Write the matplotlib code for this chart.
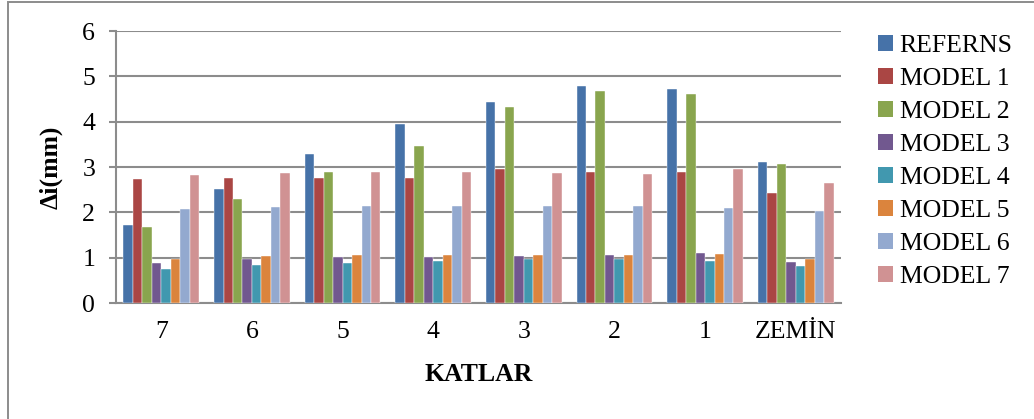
import matplotlib
matplotlib.use("Agg")
import matplotlib.pyplot as plt
import numpy as np
from matplotlib.patches import Rectangle, Patch

plt.rcParams['font.family'] = ['Liberation Serif', 'DejaVu Serif']

# Floor levels (categories) and storey drifts per model
floors = ["7", "6", "5", "4", "3", "2", "1", "ZEMİN"]
series_names = ["REFERNS", "MODEL 1", "MODEL 2", "MODEL 3",
                "MODEL 4", "MODEL 5", "MODEL 6", "MODEL 7"]
referns = [1.72, 2.51, 3.29, 3.94, 4.44, 4.79, 4.73, 3.12]
model1 = [2.73, 2.76, 2.76, 2.76, 2.95, 2.88, 2.90, 2.42]
model2 = [1.68, 2.29, 2.90, 3.46, 4.32, 4.68, 4.61, 3.07]
model3 = [0.88, 0.98, 1.01, 1.02, 1.03, 1.05, 1.11, 0.90]
model4 = [0.76, 0.84, 0.89, 0.93, 0.96, 0.97, 0.93, 0.82]
model5 = [0.98, 1.03, 1.05, 1.06, 1.05, 1.05, 1.07, 0.96]
model6 = [2.08, 2.12, 2.15, 2.15, 2.15, 2.13, 2.10, 2.03]
model7 = [2.82, 2.86, 2.89, 2.88, 2.86, 2.85, 2.95, 2.65]

series = [referns, model1, model2, model3, model4, model5, model6, model7]
colors = ["#4672A8", "#AA4644", "#89A54E", "#71588F",
          "#4198AF", "#DB843D", "#93A9CF", "#D09293"]

W, H = 1034, 419
fig = plt.figure(figsize=(W / 100, H / 100), dpi=100)
fig.patch.set_facecolor("white")

# chart frame
fig.patches.append(Rectangle((8 / W, -0.1), 1.2, (H - 2) / H + 0.1,
                             transform=fig.transFigure, fill=False,
                             edgecolor="#8c8c8c", linewidth=1.4))

left, right, top, bottom = 116, 841, 31, 303
ax = fig.add_axes([left / W, (H - bottom) / H, (right - left) / W, (bottom - top) / H])

x = np.arange(len(floors))
bw = 0.1045
for j, (vals, c) in enumerate(zip(series, colors)):
    ax.bar(x + (j - 3.5) * bw, vals, width=bw, color=c, zorder=3,
           edgecolor="white", linewidth=0.3, label=series_names[j])

ax.set_xlim(-0.5, len(floors) - 0.5)
ax.set_ylim(0, 6)
ax.set_yticks(range(0, 7))
ax.set_xticks(x)
ax.set_xticklabels(floors)

grid_c = "#8c8c8c"
ax.yaxis.grid(True, color=grid_c, linewidth=1.5, zorder=0)
ax.set_axisbelow(True)
for s in ["top", "right"]:
    ax.spines[s].set_visible(False)
for s in ["left", "bottom"]:
    ax.spines[s].set_color(grid_c)
    ax.spines[s].set_linewidth(1.5)

ax.tick_params(axis="y", direction="out", length=5, width=1.5, color=grid_c,
               labelsize=18.5, pad=10)
ax.tick_params(axis="x", length=0, labelsize=18.5, pad=13)

ax.set_xlabel("KATLAR", fontsize=18.5, fontweight="bold", labelpad=14)
ax.set_ylabel("Δi(mm)", fontsize=18.5, fontweight="bold", labelpad=14)

handles = [Patch(facecolor=c, edgecolor="none") for c in colors]
fig.legend(handles, series_names, loc="upper left",
           bbox_to_anchor=(865 / W, (H - 22) / H), frameon=False,
           fontsize=18.5, handlelength=0.6, handleheight=0.6,
           handletextpad=0.25, labelspacing=0.42, borderpad=0.0)

fig.savefig("out.png", dpi=100, facecolor="white")
